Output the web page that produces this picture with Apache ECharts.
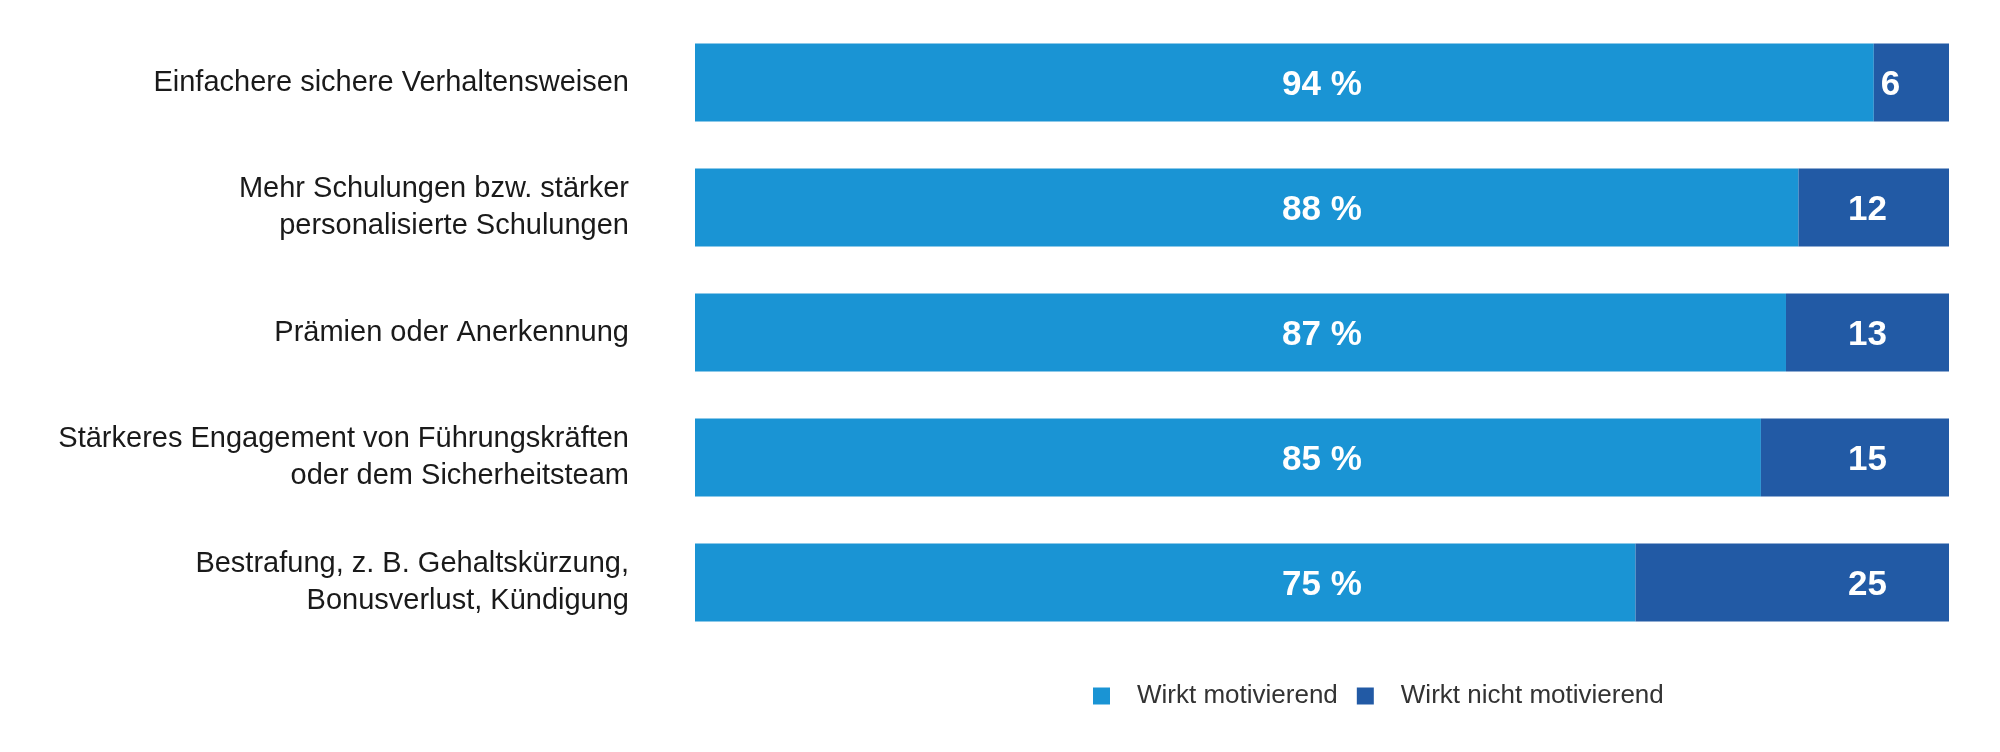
<!DOCTYPE html>
<html>
<head>
<meta charset="utf-8">
<script src="https://cdn.jsdelivr.net/npm/echarts@6/dist/echarts.min.js"></script>
<style>html,body{margin:0;padding:0;background:#fff}#c{width:2000px;height:752px}</style>
</head>
<body>
<div id="c"></div>
<script>
const categories = [
  'Einfachere sichere Verhaltensweisen',
  'Mehr Schulungen bzw. stärker\npersonalisierte Schulungen',
  'Prämien oder Anerkennung',
  'Stärkeres Engagement von Führungskräften\noder dem Sicherheitsteam',
  'Bestrafung, z. B. Gehaltskürzung,\nBonusverlust, Kündigung'
];
const seriesNames = ['Wirkt motivierend', 'Wirkt nicht motivierend'];
const motivating = [94, 88, 87, 85, 75];
const notMotivating = [6, 12, 13, 15, 25];

const LIGHT = '#1a94d4', DARK = '#225aa5';
const FONT = '"Liberation Sans", Arial, Helvetica, sans-serif';

const chart = echarts.init(document.getElementById('c'), null, {renderer: 'canvas'});
chart.setOption({
  animation: false,
  backgroundColor: '#ffffff',
  grid: {left: 695, right: 51, top: 20, height: 625, containLabel: false},
  xAxis: {type: 'value', min: 0, max: 100, show: false},
  yAxis: {
    type: 'category', data: categories, inverse: true,
    axisLine: {show: false}, axisTick: {show: false}, splitLine: {show: false},
    axisLabel: {margin: 66, fontFamily: FONT, fontSize: 29, color: '#1a1a1a', lineHeight: 37, align: 'right'}
  },
  legend: {
    data: seriesNames, left: 1088, top: 678, itemWidth: 17, itemHeight: 17, itemGap: 19,
    icon: 'rect',
    textStyle: {fontFamily: FONT, fontSize: 26, color: '#333333', padding: [0, 0, 0, 22]}
  },
  series: [
    {
      name: seriesNames[0], type: 'bar', stack: 'a', barWidth: 78,
      itemStyle: {color: LIGHT},
      data: motivating.map(v => ({
        value: v,
        label: {position: [(5000 / v).toFixed(3) + '%', '50%']}
      })),
      label: {
        show: true, align: 'center', verticalAlign: 'middle', offset: [0, 3],
        color: '#ffffff', fontFamily: FONT, fontWeight: 'bold', fontSize: 35,
        formatter: p => p.value + ' %'
      }
    },
    {
      name: seriesNames[1], type: 'bar', stack: 'a', barWidth: 78,
      itemStyle: {color: DARK},
      data: notMotivating.map(v => v < 10
        ? {value: v, label: {position: 'insideLeft', distance: 7}}
        : {value: v}),
      label: {
        show: true, position: 'insideRight', distance: 62, offset: [0, 3],
        color: '#ffffff', fontFamily: FONT, fontWeight: 'bold', fontSize: 35
      }
    }
  ]
});
</script>
</body>
</html>
